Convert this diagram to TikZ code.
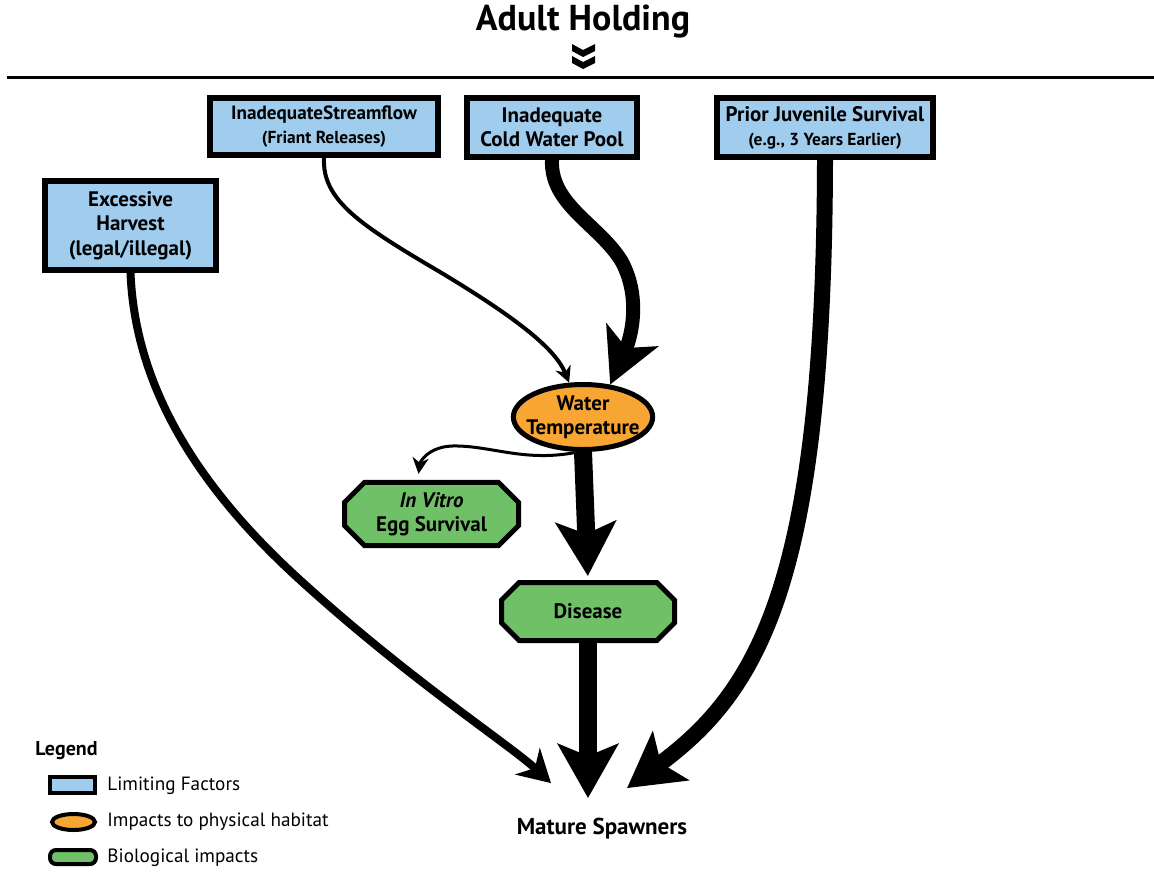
\documentclass[tikz,border=0pt]{standalone}
\usepackage{fontspec}
\setmainfont{PT Sans}
\usetikzlibrary{arrows.meta,shapes.geometric,shapes.misc,positioning}
\definecolor{factorblue}{RGB}{160,204,238}
\definecolor{habitatorange}{RGB}{247,166,52}
\definecolor{bioGreen}{RGB}{112,192,104}
\newcommand{\subnote}[1]{{\fontsize{8.7}{10}\selectfont #1}}
\tikzset{
    box text/.style={font=\bfseries\fontsize{10.5}{12}\selectfont, align=center, inner sep=0pt},
    factor/.style={box text, rectangle, draw, line width=3pt, fill=factorblue},
    habitat/.style={box text, ellipse, draw, line width=2.5pt, fill=habitatorange, inner xsep=-3.7pt},
    impact/.style={box text, chamfered rectangle, chamfered rectangle xsep=5pt, chamfered rectangle ysep=5pt, draw, line width=2.5pt, fill=bioGreen},
    key label/.style={font=\fontsize{9.6}{11}\selectfont, inner sep=0pt},
    thin link/.style={line width=2pt, -{Stealth[length=8pt,width=8pt,inset=2.5pt]}},
    mid link/.style={line width=4pt, -{Stealth[length=16pt,width=18pt,inset=5pt]}},
    heavy link/.style={line width=7pt, -{Stealth[length=27pt,width=28pt,inset=7pt]}},
    huge link/.style={line width=9pt, -{Stealth[length=27pt,width=30pt,inset=6pt]}}
}

\begin{document}
\begin{tikzpicture}[x=0.5pt,y=-0.5pt]
    \useasboundingbox (0,0) rectangle (1154,872);
    % heading
    \node[font=\bfseries\fontsize{18}{21}\selectfont, inner sep=0pt] (title) at (583,22) {Adult Holding};
    \fill (572,44) -- (583,50) -- (595,44) -- (595,51) -- (583,57) -- (572,51) -- cycle;
    \fill (572,56) -- (583,62) -- (595,56) -- (595,63) -- (583,69) -- (572,63) -- cycle;
    \draw[line width=1.5pt] (7,78) -- (1154,78);

    % limiting factors
    \node[factor, minimum width=114pt, minimum height=28.5pt] (flow) at (324,126.5)
        {{\fontsize{9.6}{12}\selectfont InadequateStreamflow}\\\subnote{(Friant Releases)}};
    \node[factor, minimum width=85pt, minimum height=29.5pt] (cold) at (552,127.5)
        {Inadequate\\Cold Water Pool};
    \node[factor, minimum width=108pt, minimum height=29.5pt] (juv) at (825,127.5)
        {Prior Juvenile Survival\\\subnote{(e.g., 3 Years Earlier)}};
    \node[factor, minimum width=85.5pt, minimum height=44.5pt, font=\bfseries\fontsize{10.5}{12.3}\selectfont] (harv) at (130.5,225.5)
        {Excessive\\Harvest\\(legal/illegal)};

    % impacts
    \node[habitat, minimum width=69.5pt, minimum height=32.5pt] (wt) at (583,417) {Water\\Temperature};
    \node[impact, minimum width=87pt, minimum height=27.5pt] (vitro) at (431.5,514) {\textit{In Vitro}\\Egg Survival};
    \node[impact, minimum width=86.5pt, minimum height=29pt] (dis) at (588,611.5) {Disease};
    \node[box text, font=\bfseries\fontsize{11.5}{13}\selectfont] (spawn) at (602,829) {Mature Spawners};

    % links
    \draw[thin link] (flow.south) .. controls (322,200) and (360,225) .. (440,272)
        .. controls (520,320) and (556,350) .. (wt.112);
    \draw[heavy link] (cold.south) .. controls (550,205) and (600,225) .. (622,262)
        .. controls (642,300) and (630,340) .. (wt.50);
    \draw[thin link, line width=1.5pt] (wt.262) .. controls (525,463) and (490,445) .. (452,446)
        .. controls (428,447) and (420,462) .. ([xshift=-6.5pt,yshift=3pt]vitro.north);
    \draw[huge link, shorten >=2pt] (wt.south) -- (dis.north);
    \draw[huge link, shorten >=10pt] (dis.south) -- (dis.south |- spawn.north);
    \draw[mid link] (harv.south) .. controls (135,380) and (190,480) .. (300,580)
        .. controls (410,680) and (510,745) .. ([shift={(-25.5pt,17.5pt)}]spawn.north);
    \draw[huge link, line width=8pt] (juv.south) .. controls (824,580) and (760,690)
        .. ([shift={(12.5pt,15pt)}]spawn.north);

    % legend
    \node[font=\bfseries\fontsize{10}{11}\selectfont, inner sep=0pt, anchor=west] (legend) at (35,751) {Legend};
    \node[rectangle, draw, line width=2pt, fill=factorblue, minimum width=22.5pt, minimum height=8pt, inner sep=0pt] (keyfactor) at (72.5,785) {};
    \node[ellipse, draw, line width=2pt, fill=habitatorange, minimum width=21.5pt, minimum height=8pt, inner sep=0pt] (keyhabitat) at (73.5,822) {};
    \node[rectangle, rounded corners=3pt, draw, line width=2pt, fill=bioGreen, minimum width=23pt, minimum height=7pt, inner sep=0pt] (keybio) at (73,857) {};
    \node[key label, anchor=west] at (107,786) {Limiting Factors};
    \node[key label, anchor=west] at (107,822) {Impacts to physical habitat};
    \node[key label, anchor=west] at (107,858) {Biological impacts};
\end{tikzpicture}
\end{document}
